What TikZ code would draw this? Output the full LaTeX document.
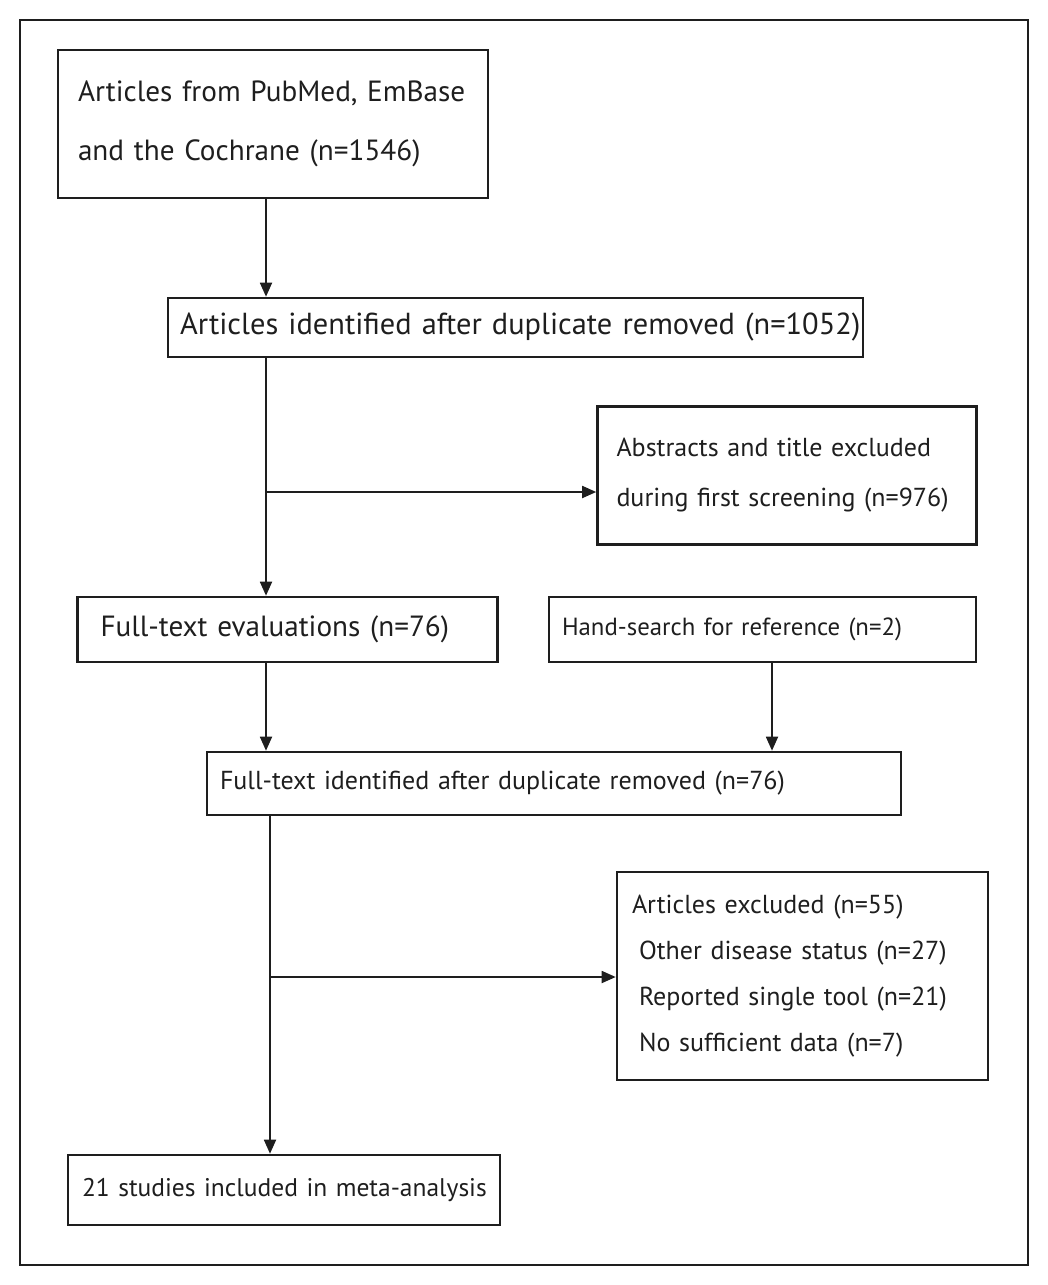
\documentclass[tikz,border=0pt]{standalone}
\usepackage{fontspec}
\setmainfont{PT Sans}
\usetikzlibrary{arrows.meta}
\definecolor{ink}{HTML}{1E1E1E}
\begin{document}
\begin{tikzpicture}[x=1pt,y=-1pt,
  box/.style={draw=ink, line width=2.6pt, rectangle, inner sep=0pt, align=left, text=ink},
  conn/.style={draw=ink, line width=1.8pt},
  arr/.style={conn, -{Triangle[length=14pt,width=12pt]}},
]
\useasboundingbox (0,0) rectangle (1048,1285);
\draw[ink, line width=2pt] (20,20) rectangle (1028,1265);

\node[box, minimum width=430pt, minimum height=148pt, text width=390pt,
  font=\fontsize{29.2}{59}\selectfont] (b1) at (273,124)
  {\mbox{Articles from PubMed, EmBase}\\\mbox{and the Cochrane (n=1546)}};
\node[box, minimum width=695pt, minimum height=59pt, text width=671pt,
  font=\fontsize{30.4}{36}\selectfont] (b2) at (515.5,327.5)
  {\mbox{Articles identified after duplicate removed (n=1052)}};
\node[box, minimum width=379pt, minimum height=138pt, text width=341pt,
  font=\fontsize{26}{50}\selectfont] (b3) at (787,475.5)
  {\mbox{Abstracts and title excluded}\\\mbox{during first screening (n=976)}};
\node[box, minimum width=420pt, minimum height=65pt, text width=374pt,
  font=\fontsize{29.2}{34}\selectfont] (b4) at (287.5,629.5)
  {\mbox{Full-text evaluations (n=76)}};
\node[box, minimum width=427pt, minimum height=65pt, text width=401pt,
  font=\fontsize{24.8}{30}\selectfont] (b5) at (762.5,629.5)
  {\mbox{Hand-search for reference (n=2)}};
\node[box, minimum width=694pt, minimum height=63pt, text width=668pt,
  font=\fontsize{26}{31}\selectfont] (b6) at (554,783.5)
  {\mbox{Full-text identified after duplicate removed (n=76)}};
\node[box, minimum width=371pt, minimum height=208pt, text width=341pt,
  font=\fontsize{26}{46}\selectfont] (b7) at (802.5,976)
  {\mbox{Articles excluded (n=55)}\\
   \mbox{\hspace*{7pt}Other disease status (n=27)}\\
   \mbox{\hspace*{7pt}Reported single tool (n=21)}\\
   \mbox{\hspace*{7pt}No sufficient data (n=7)}};
\node[box, minimum width=432pt, minimum height=70pt, text width=404pt,
  font=\fontsize{25.5}{30}\selectfont] (b8) at (284,1190)
  {\mbox{21 studies included in meta-analysis}};

\coordinate (x1) at (266,0);
\coordinate (x2) at (772,0);
\coordinate (x3) at (270,0);
\coordinate (br1) at (266,492);
\coordinate (br2) at (270,977);

\draw[arr] (b1.south -| x1) -- (b2.north -| x1);
\draw[arr] (b2.south -| x1) -- (b4.north -| x1);
\draw[arr] (br1) -- (br1 -| b3.west);
\draw[arr] (b4.south -| x1) -- (b6.north -| x1);
\draw[arr] (b5.south -| x2) -- (b6.north -| x2);
\draw[arr] (b6.south -| x3) -- (b8.north -| x3);
\draw[arr] (br2) -- (br2 -| b7.west);
\end{tikzpicture}
\end{document}
